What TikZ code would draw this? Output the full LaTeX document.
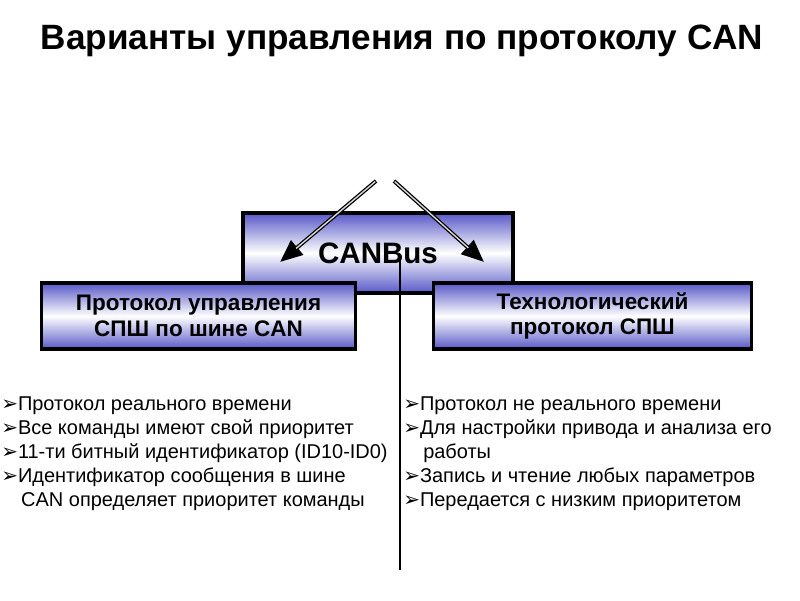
\documentclass[tikz,border=0pt]{standalone}
\usepackage{fontspec}
\setmainfont{Liberation Sans}
\newfontfamily\symfont{DejaVu Sans}
\usetikzlibrary{arrows.meta}
\definecolor{boxblue}{RGB}{88,88,200}
\newcommand{\pnt}{{\symfont\char"27A2}}
\tikzset{
  box/.style={draw, line width=2.2pt, top color=boxblue, bottom color=boxblue,
    middle color=white, align=center, inner sep=0pt},
  subfont/.style={font=\bfseries\fontsize{16pt}{18pt}\selectfont},
  listtext/.style={anchor=north west, align=left, inner sep=0pt,
    font=\fontsize{14.2pt}{17.1pt}\selectfont},
  arrbody/.style={line width=2.8pt, -{Triangle[length=16pt,width=13pt]}},
  arrcore/.style={line width=1pt, gray!30, shorten >=15pt, shorten <=0.7pt}
}
\begin{document}
\begin{tikzpicture}[x=0.025cm, y=-0.025cm]
    \useasboundingbox (0,0) rectangle (800,600);
    % Заголовок
    \node[font=\bfseries\fontsize{25pt}{28pt}\selectfont] (title) at (402,41)
        {Варианты управления по протоколу CAN};

    % Шина CAN
    \node[box, minimum width=6.75cm, minimum height=2cm,
          font=\bfseries\fontsize{21pt}{24pt}\selectfont] (canbus) at (378,253) {CANBus};

    % Стрелки
    \coordinate (la) at (376,181);
    \coordinate (lb) at (280,262);
    \coordinate (ra) at (394,181);
    \coordinate (rb) at (484,262);
    \draw[arrbody] (la) -- (lb);
    \draw[arrcore] (la) -- (lb);
    \draw[arrbody] (ra) -- (rb);
    \draw[arrcore] (ra) -- (rb);

    % Вертикальная линия
    \coordinate (bustop) at (400,260);
    \coordinate (busend) at (400,570);
    \draw[line width=1.8pt] (bustop) -- (busend);

    % Протоколы
    \node[box, subfont, minimum width=7.85cm, minimum height=1.65cm] (ctrl) at (198.5,316)
        {Протокол управления\\СПШ по шине CAN};
    \node[box, subfont, minimum width=7.95cm, minimum height=1.65cm] (tech) at (592.5,316)
        {Технологический\\протокол СПШ};

    % Списки
    \node[listtext] (leftlist) at (1,396) {%
        \pnt Протокол реального времени\\
        \pnt Все команды имеют свой приоритет\\
        \pnt 11-ти битный идентификатор (ID10-ID0)\\
        \pnt Идентификатор сообщения в шине\\
        \hspace{1em}CAN определяет приоритет команды};
    \node[listtext] (rightlist) at (403,396) {%
        \pnt Протокол не реального времени\\
        \pnt Для настройки привода и анализа его\\
        \hspace{1em}работы\\
        \pnt Запись и чтение любых параметров\\
        \pnt Передается с низким приоритетом};
\end{tikzpicture}
\end{document}
